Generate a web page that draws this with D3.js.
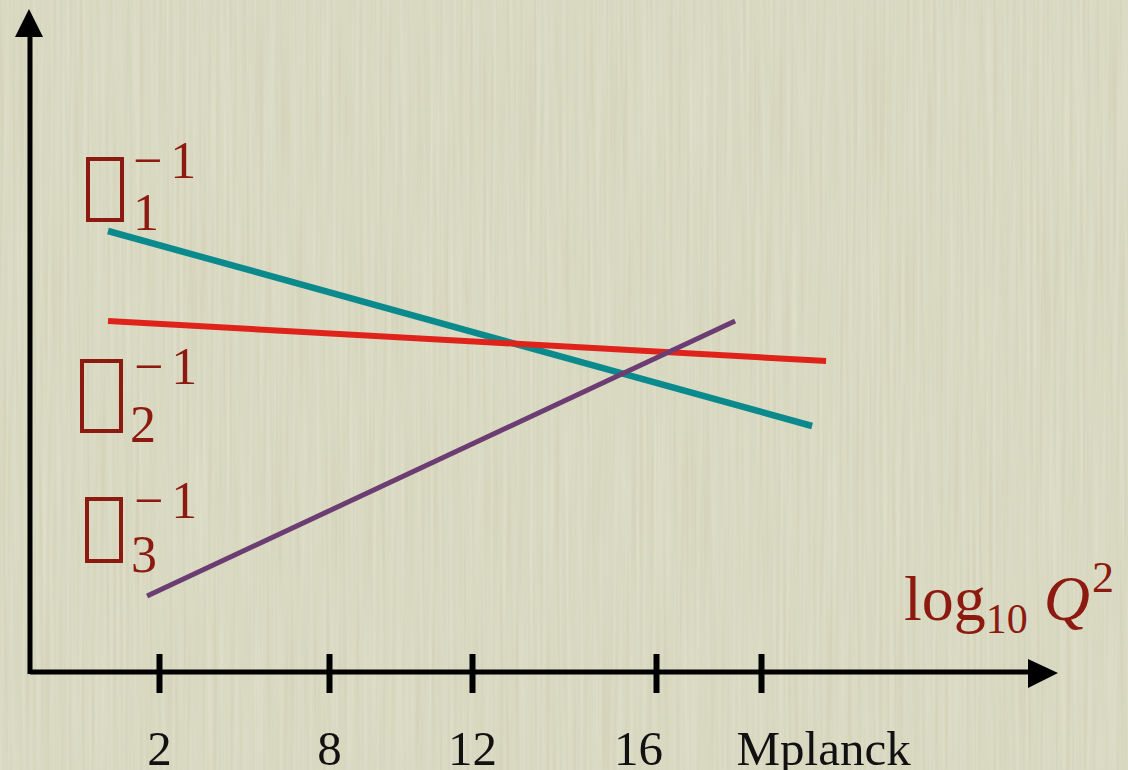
<!DOCTYPE html>
<html>
<head>
<meta charset="utf-8">
<script src="https://cdn.jsdelivr.net/npm/d3@7"></script>
<style>
  html, body { margin: 0; padding: 0; background: #dbdac3; }
  svg { display: block; }
  .lbl { font-family: "Liberation Serif", "Times New Roman", serif; fill: #8c1a10; }
  .tick text { font-family: "Liberation Serif", "Times New Roman", serif; fill: #111; }
</style>
</head>
<body>
<div id="wrapper"></div>
<script>
// tick positions along the energy axis (log scale, Mplanck ~ 19)
const tickValues = [2, 8, 12, 16, 19]
const tickLabels = ["2", "8", "12", "16", "Mplanck"]

// inverse couplings, endpoints
const alpha1 = [{x: 0.2, y: 44.1}, {x: 20.46, y: 24.6}]
const alpha2 = [{x: 0.2, y: 35.1}, {x: 20.86, y: 31.1}]
const alpha3 = [{x: 1.58, y: 7.6}, {x: 18.26, y: 35.1}]

const series = [
  {name: "alpha1", values: alpha1, color: "#0a8a8c", width: 6.5},
  {name: "alpha2", values: alpha2, color: "#e0231a", width: 6},
  {name: "alpha3", values: alpha3, color: "#6c3d72", width: 5},
]

const width = 1128
const height = 770
const axisY = 672
const axisX = 30

const svg = d3.select("#wrapper").append("svg")
  .attr("width", width)
  .attr("height", height)

// paper-like background with vertical streaks
const defs = svg.append("defs")
const filter = defs.append("filter")
  .attr("id", "paper")
  .attr("x", 0).attr("y", 0).attr("width", "100%").attr("height", "100%")
filter.append("feTurbulence")
  .attr("type", "fractalNoise")
  .attr("baseFrequency", "0.3 0.005")
  .attr("numOctaves", 2)
  .attr("seed", 4)
filter.append("feColorMatrix")
  .attr("type", "matrix")
  .attr("values", "0 0 0 0 1  0 0 0 0 1  0 0 0 0 0.95  0 0 0 0.4 -0.1")

svg.append("rect")
  .attr("width", width).attr("height", height)
  .attr("fill", "#d5d4bb")
svg.append("rect")
  .attr("width", width).attr("height", height)
  .attr("filter", "url(#paper)")

// x is piecewise, the ticks are not evenly spaced in the picture
const x = d3.scaleLinear()
  .domain(tickValues)
  .range([159, 329, 472, 656, 761])

const y = d3.scaleLinear()
  .domain([0, 60])
  .range([axisY, 72])

// axes
svg.append("line")
  .attr("x1", axisX).attr("x2", 1032)
  .attr("y1", axisY).attr("y2", axisY)
  .attr("stroke", "#000").attr("stroke-width", 5)
svg.append("path")
  .attr("d", `M1028,659 L1058,673 L1028,688 Z`)
  .attr("fill", "#000")

svg.append("line")
  .attr("x1", axisX).attr("x2", axisX)
  .attr("y1", axisY + 2).attr("y2", 34)
  .attr("stroke", "#000").attr("stroke-width", 5)
svg.append("path")
  .attr("d", `M15,37 L29,9 L43,37 Z`)
  .attr("fill", "#000")

const xAxis = d3.axisBottom(x)
  .tickValues(tickValues)
  .tickFormat((d, i) => tickLabels[i])
  .tickSize(0)

const xAxisGroup = svg.append("g")
  .attr("transform", `translate(0,${axisY})`)
  .call(xAxis)
xAxisGroup.select(".domain").remove()
xAxisGroup.selectAll(".tick line")
  .attr("y1", -18).attr("y2", 21)
  .attr("stroke", "#000").attr("stroke-width", 6)
xAxisGroup.selectAll(".tick text")
  .attr("y", 93)
  .attr("dy", 0)
  .style("font-size", "49px")
// the last two labels sit a little off their ticks in the original
xAxisGroup.selectAll(".tick text")
  .filter(d => d === 16)
  .attr("x", -18)
xAxisGroup.selectAll(".tick text")
  .filter(d => d === 19)
  .attr("text-anchor", "start")
  .attr("x", -25)

// coupling lines
const lineGenerator = d3.line()
  .x(d => x(d.x))
  .y(d => y(d.y))

svg.selectAll(".coupling")
  .data(series)
  .enter().append("path")
    .attr("class", "coupling")
    .attr("d", d => lineGenerator(d.values))
    .attr("fill", "none")
    .attr("stroke", d => d.color)
    .attr("stroke-width", d => d.width)

// labels: the alpha glyph shows as a missing-glyph box in the original
const alphaLabels = [
  {sub: "1", box: [86, 157, 38, 65], subX: 133, subY: 230, supX: 133, supY: 178},
  {sub: "2", box: [80, 359, 43, 74], subX: 130, subY: 442, supX: 134, supY: 384},
  {sub: "3", box: [85, 497, 38, 66], subX: 131, subY: 572, supX: 134, supY: 518},
]

alphaLabels.forEach(l => {
  svg.append("rect")
    .attr("x", l.box[0] + 2)
    .attr("y", l.box[1] + 2)
    .attr("width", l.box[2] - 4)
    .attr("height", l.box[3] - 4)
    .attr("fill", "none")
    .attr("stroke", "#8c1a10")
    .attr("stroke-width", 4)
  svg.append("text")
    .attr("class", "lbl")
    .attr("x", l.subX)
    .attr("y", l.subY)
    .style("font-size", "52px")
    .text(l.sub)
  const sup = svg.append("text")
    .attr("class", "lbl")
    .attr("x", l.supX)
    .attr("y", l.supY)
    .style("font-size", "52px")
  sup.append("tspan").text("\u2212")
  sup.append("tspan").attr("dx", 8).text("1")
})

const qLabel = svg.append("text")
  .attr("class", "lbl")
  .attr("x", 904)
  .attr("y", 620)
  .style("font-size", "64px")
qLabel.append("tspan").text("log")
qLabel.append("tspan")
  .attr("dy", 13)
  .style("font-size", "42px")
  .text("10")
qLabel.append("tspan")
  .attr("dy", -13)
  .attr("dx", 16)
  .style("font-style", "italic")
  .text("Q")
qLabel.append("tspan")
  .attr("dy", -28)
  .attr("dx", 2)
  .style("font-size", "44px")
  .text("2")
</script>
</body>
</html>
